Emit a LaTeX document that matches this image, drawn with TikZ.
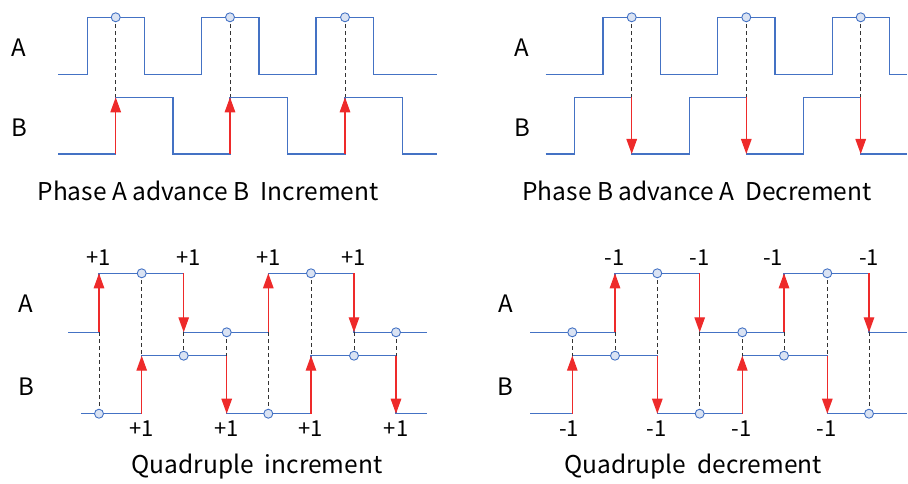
\documentclass[tikz,border=0pt]{standalone}
\usepackage{fontspec}
\setmainfont{Noto Sans CJK SC}
\usetikzlibrary{arrows.meta}
\definecolor{sig}{HTML}{4472C4}
\definecolor{dotfill}{HTML}{DAE3F3}
\definecolor{edge}{HTML}{EE2A2A}
\tikzset{
  wave/.style={draw=sig, line width=1.3pt},
  guide/.style={draw=black!80, line width=0.9pt, dash pattern=on 4pt off 3pt},
  pulse/.style={draw=edge, line width=1.3pt, -{Triangle[length=15pt,width=10.5pt]}},
  dot/.style={circle, draw=sig, fill=dotfill, line width=0.9pt, inner sep=0pt, minimum size=9pt},
  chan/.style={font=\fontsize{24}{24}\selectfont, inner sep=0pt},
  count/.style={font=\fontsize{22}{22}\selectfont, inner sep=0pt},
  caption/.style={font=\fontsize{24.5}{24.5}\selectfont, inner sep=0pt}
}
\begin{document}
\begin{tikzpicture}[x=1pt,y=-1pt]
\useasboundingbox (0,0) rectangle (908,484);
% ---------------- top left ----------------
\node[chan] (tlA) at (19,48) {A};
\node[chan] (tlB) at (19,128) {B};
\foreach \x [count=\i] in {115.7,230,345} {
  \coordinate (tlAt\i) at (\x,17.3);
  \coordinate (tlBh\i) at (\x,97.3);
  \coordinate (tlBl\i) at (\x,154);
}
\draw[wave] (58.3,74.7) -| (87.3,17.3) -| (144.3,74.7) -| (201.7,17.3) -| (259,74.7) -| (316,17.3) -| (373.3,74.7) -- (436.7,74.7);
\draw[wave] (58.3,154) -| (115.7,97.3) -| (173,154) -| (230,97.3) -| (287.3,154) -| (345,97.3) -| (402.3,154) -- (436.7,154);
\foreach \i in {1,2,3} {
  \draw[guide] (tlAt\i) -- (tlBh\i);
  \draw[pulse] (tlBl\i) -- (tlBh\i);
  \node[dot] (tld\i) at (tlAt\i) {};
}
\node[caption] (tlcap) at (208,191) {Phase A advance B\ \ Increment};
% ---------------- top right ----------------
\node[chan] (trA) at (522,48) {A};
\node[chan] (trB) at (522,128) {B};
\foreach \x [count=\i] in {631.7,746.3,860.7} {
  \coordinate (trAt\i) at (\x,17.3);
  \coordinate (trBh\i) at (\x,97.3);
  \coordinate (trBl\i) at (\x,154);
}
\draw[wave] (545.7,74.7) -| (603,17.3) -| (660.7,74.7) -| (717.7,17.3) -| (775,74.7) -| (832.3,17.3) -| (889.3,74.7) -- (907,74.7);
\draw[wave] (545.7,154) -| (574.3,97.3) -| (631.7,154) -| (689.3,97.3) -| (746.3,154) -| (803.7,97.3) -| (860.7,154) -- (907,154);
\foreach \i in {1,2,3} {
  \draw[guide] (trAt\i) -- (trBh\i);
  \draw[pulse] (trBh\i) -- (trBl\i);
  \node[dot] (trd\i) at (trAt\i) {};
}
\node[caption] (trcap) at (697,191) {Phase B advance A\ \ Decrement};
% ---------------- bottom left ----------------
\node[chan] (blA) at (26,304) {A};
\node[chan] (blB) at (26,386.7) {B};
\foreach \x [count=\i] in {99,141.7,183.7,226.7,268.3,311,354,396} {
  \coordinate (blAh\i) at (\x,273.3);
  \coordinate (blAl\i) at (\x,332.3);
  \coordinate (blBh\i) at (\x,355.7);
  \coordinate (blBl\i) at (\x,413.7);
}
\draw[wave] (68.3,332.3) -| (99,273.3) -| (183.7,332.3) -| (268.3,273.3) -| (354,332.3) -- (426.7,332.3);
\draw[wave] (81,413.7) -| (141.7,355.7) -| (226.7,413.7) -| (311,355.7) -| (396,413.7) -- (426.7,413.7);
\foreach \a/\b/\c/\d in {1/2/3/4,5/6/7/8} {
  \draw[guide] (blAl\a) -- (blBl\a);
  \draw[guide] (blAh\b) -- (blBh\b);
  \draw[guide] (blAl\c) -- (blBh\c);
  \draw[guide] (blAl\d) -- (blBh\d);
  \draw[pulse] (blAl\a) -- (blAh\a);
  \draw[pulse] (blBl\b) -- (blBh\b);
  \draw[pulse] (blAh\c) -- (blAl\c);
  \draw[pulse] (blBh\d) -- (blBl\d);
  \node[dot] (bldB\a) at (blBl\a) {};
  \node[dot] (bldA\b) at (blAh\b) {};
  \node[dot] (bldB\c) at (blBh\c) {};
  \node[dot] (bldA\d) at (blAl\d) {};
}
\node[count] (blu1) at (98.7,258) {+1};
\node[count] (blu2) at (188.7,258) {+1};
\node[count] (blu3) at (268.3,258) {+1};
\node[count] (blu4) at (353.3,258) {+1};
\node[count] (bll1) at (141.7,429) {+1};
\node[count] (bll2) at (226.3,429) {+1};
\node[count] (bll3) at (310.7,429) {+1};
\node[count] (bll4) at (396,429) {+1};
\node[caption] (blcap) at (257,467) {Quadruple\ \ increment};
% ---------------- bottom right ----------------
\node[chan] (brA) at (505.7,304) {A};
\node[chan] (brB) at (505.7,386.7) {B};
\foreach \x [count=\i] in {572.3,615,657.3,699.7,742.3,784,827.3,869} {
  \coordinate (brAh\i) at (\x,273.3);
  \coordinate (brAl\i) at (\x,332.3);
  \coordinate (brBh\i) at (\x,355.7);
  \coordinate (brBl\i) at (\x,413.7);
}
\draw[wave] (530,332.3) -| (615,273.3) -| (699.7,332.3) -| (784,273.3) -| (869,332.3) -- (907,332.3);
\draw[wave] (530,413.7) -| (572.3,355.7) -| (657.3,413.7) -| (742.3,355.7) -| (827.3,413.7) -- (907,413.7);
\foreach \a/\b/\c/\d in {1/2/3/4,5/6/7/8} {
  \draw[guide] (brAl\a) -- (brBh\a);
  \draw[guide] (brAl\b) -- (brBh\b);
  \draw[guide] (brAh\c) -- (brBh\c);
  \draw[guide] (brAl\d) -- (brBl\d);
  \draw[pulse] (brBl\a) -- (brBh\a);
  \draw[pulse] (brAl\b) -- (brAh\b);
  \draw[pulse] (brBh\c) -- (brBl\c);
  \draw[pulse] (brAh\d) -- (brAl\d);
  \node[dot] (brdA\a) at (brAl\a) {};
  \node[dot] (brdB\b) at (brBh\b) {};
  \node[dot] (brdA\c) at (brAh\c) {};
  \node[dot] (brdB\d) at (brBl\d) {};
}
\node[count] (bru1) at (614.7,258) {-1};
\node[count] (bru2) at (699.7,258) {-1};
\node[count] (bru3) at (773,258) {-1};
\node[count] (bru4) at (869,258) {-1};
\node[count] (brl1) at (569,429) {-1};
\node[count] (brl2) at (656.7,429) {-1};
\node[count] (brl3) at (741.3,429) {-1};
\node[count] (brl4) at (826.3,429) {-1};
\node[caption] (brcap) at (693,467) {Quadruple\ \ decrement};
\end{tikzpicture}
\end{document}
